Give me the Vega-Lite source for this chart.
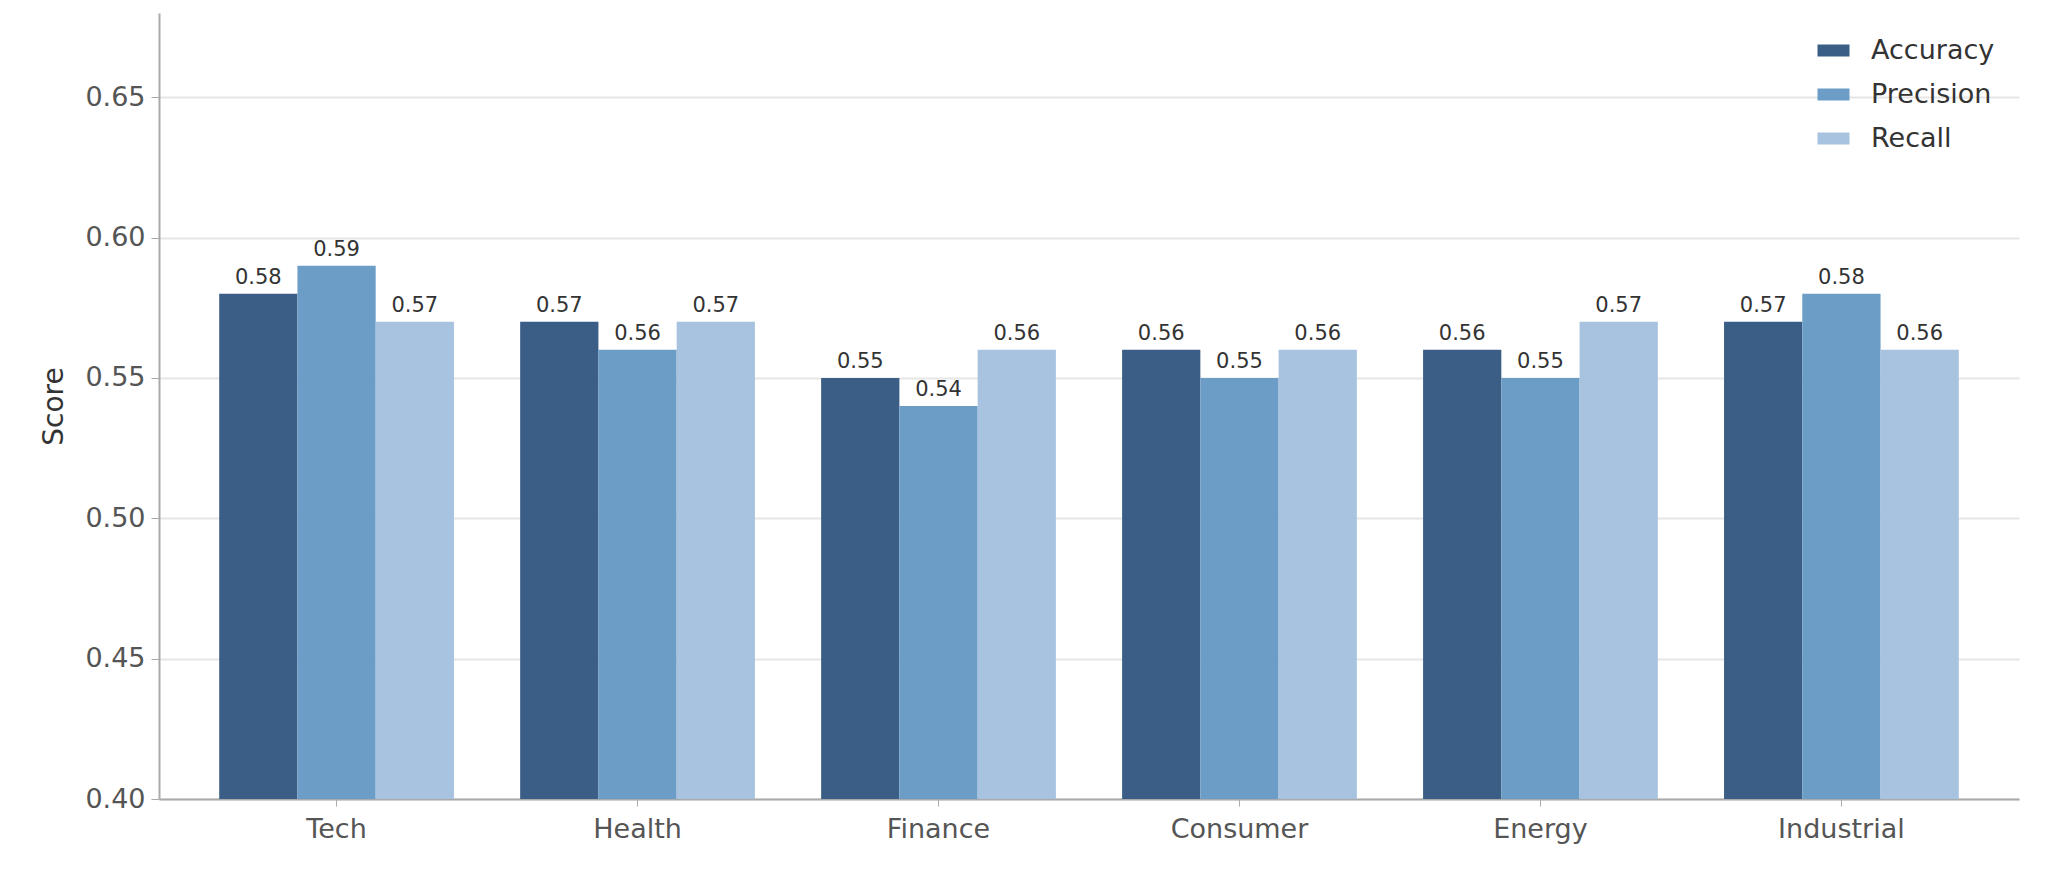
{
  "$schema": "https://vega.github.io/schema/vega-lite/v6.json",
  "width": 1860,
  "height": 786,
  "padding": {"left": 40, "top": 13, "right": 10, "bottom": 10},
  "autosize": {"type": "pad"},
  "data": {
    "values": [
      {"sector": "Tech", "metric": "Accuracy", "score": 0.58},
      {"sector": "Tech", "metric": "Precision", "score": 0.59},
      {"sector": "Tech", "metric": "Recall", "score": 0.57},
      {"sector": "Health", "metric": "Accuracy", "score": 0.57},
      {"sector": "Health", "metric": "Precision", "score": 0.56},
      {"sector": "Health", "metric": "Recall", "score": 0.57},
      {"sector": "Finance", "metric": "Accuracy", "score": 0.55},
      {"sector": "Finance", "metric": "Precision", "score": 0.54},
      {"sector": "Finance", "metric": "Recall", "score": 0.56},
      {"sector": "Consumer", "metric": "Accuracy", "score": 0.56},
      {"sector": "Consumer", "metric": "Precision", "score": 0.55},
      {"sector": "Consumer", "metric": "Recall", "score": 0.56},
      {"sector": "Energy", "metric": "Accuracy", "score": 0.56},
      {"sector": "Energy", "metric": "Precision", "score": 0.55},
      {"sector": "Energy", "metric": "Recall", "score": 0.57},
      {"sector": "Industrial", "metric": "Accuracy", "score": 0.57},
      {"sector": "Industrial", "metric": "Precision", "score": 0.58},
      {"sector": "Industrial", "metric": "Recall", "score": 0.56}
    ]
  },
  "encoding": {
    "x": {
      "field": "sector", "type": "nominal", "sort": null,
      "scale": {"paddingInner": 0.22, "paddingOuter": 0.2},
      "axis": {"title": null, "labelAngle": 0, "labelFontSize": 27, "labelColor": "#555", "labelPadding": 10, "domainColor": "#aaa", "domainWidth": 2, "tickColor": "#aaa", "tickSize": 7}
    },
    "xOffset": {"field": "metric", "type": "nominal"},
    "y": {
      "field": "score", "type": "quantitative",
      "scale": {"domain": [0.4, 0.68], "zero": false, "nice": false},
      "axis": {"title": "Score", "titleFontSize": 28, "titleFontWeight": "normal", "titleColor": "#333", "titlePadding": 16, "labelFontSize": 27, "labelColor": "#555", "labelPadding": 6, "format": ".2f", "values": [0.4, 0.45, 0.5, 0.55, 0.6, 0.65], "gridColor": "#e6e6e6", "gridWidth": 2, "domainColor": "#aaa", "domainWidth": 2, "tickColor": "#aaa", "tickSize": 8}
    }
  },
  "layer": [
    {
      "mark": {"type": "bar", "clip": true},
      "encoding": {
        "color": {
          "field": "metric", "type": "nominal",
          "scale": {"domain": ["Accuracy", "Precision", "Recall"], "range": ["#3b5e86", "#6b9dc7", "#a8c3e0"]},
          "legend": {"title": null, "orient": "top-right", "labelFontSize": 27, "labelColor": "#333", "labelOffset": 24, "symbolType": "M-1.6,-0.6H1.6V0.6H-1.6Z", "symbolSize": 400, "symbolStrokeWidth": 0, "rowPadding": 16, "offset": 24, "symbolOpacity": 1}
        }
      }
    },
    {
      "mark": {"type": "text", "dy": -16, "fontSize": 21, "color": "#333"},
      "encoding": {"text": {"field": "score", "type": "quantitative", "format": ".2f"}}
    }
  ],
  "config": {
    "font": "DejaVu Sans",
    "view": {"stroke": null}
  }
}
